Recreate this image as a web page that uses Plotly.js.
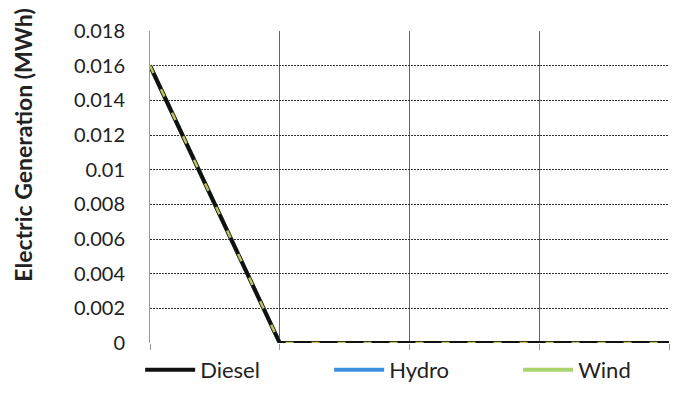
<!DOCTYPE html>
<html><head><meta charset="utf-8">
<script src="https://cdn.plot.ly/plotly-3.0.1.min.js"></script>
<style>html,body{margin:0;padding:0;background:#fff}#chart{width:677px;height:396px}</style>
</head><body><div id="chart"></div>
<script>
var xPoints = [0, 1, 2, 3, 4];
var diesel = [0.016, 0, 0, 0, 0];
var hydro = [0.016, 0, 0, 0, 0];
var wind = [0.016, 0, 0, 0, 0];
var yTickVals = [0, 0.002, 0.004, 0.006, 0.008, 0.01, 0.012, 0.014, 0.016, 0.018];
var yTickText = ['0', '0.002', '0.004', '0.006', '0.008', '0.01', '0.012', '0.014', '0.016', '0.018'];
var yTitle = 'Electric Generation (MWh)';

var traces = [
  {x: xPoints, y: hydro, name: 'Hydro', mode: 'lines', line: {color: '#3a8fe0', width: 4}, legendrank: 2},
  {x: xPoints, y: wind, name: 'Wind', mode: 'lines', line: {color: '#a9d46c', width: 4}, legendrank: 3},
  {x: xPoints, y: diesel, name: 'Diesel', mode: 'lines', line: {color: '#111111', width: 4}, legendrank: 1},
  {x: xPoints, y: wind, name: 'Wind', mode: 'lines', showlegend: false, hoverinfo: 'skip',
   line: {color: '#c2c064', width: 2.5, dash: '8px,18px'}}
];

var layout = {
  width: 677, height: 396,
  margin: {l: 150, r: 8, t: 31, b: 53, autoexpand: false},
  paper_bgcolor: '#ffffff', plot_bgcolor: '#ffffff',
  font: {family: 'Lato, "Open Sans", sans-serif', size: 16, color: '#222'},
  showlegend: true,
  legend: {orientation: 'h', xref: 'paper', yref: 'paper', x: -0.019, xanchor: 'left',
    y: -0.0865, yanchor: 'middle', bgcolor: 'rgba(0,0,0,0)',
    entrywidth: 124, entrywidthmode: 'pixels', traceorder: 'normal',
    font: {size: 22, color: '#222'}, itemwidth: 50},
  xaxis: {range: [0, 4], tickvals: xPoints, ticktext: ['', '', '', '', ''], showgrid: true,
    gridcolor: '#666', gridwidth: 1, ticks: 'outside', ticklen: 6, tickcolor: '#999',
    showline: false, zeroline: false, fixedrange: true},
  yaxis: {range: [0, 0.018], tickvals: yTickVals, ticktext: yTickText, showgrid: true,
    gridcolor: '#333', griddash: '2px,1px', gridwidth: 1, showline: true, linecolor: '#999',
    zeroline: false, ticks: '', ticklabelstandoff: 20,
    tickfont: {size: 20, color: '#222'}},
  annotations: [{text: '<b>' + yTitle + '</b>', textangle: -90, xref: 'paper', yref: 'paper',
    x: -0.245, y: 0.635, xanchor: 'center', yanchor: 'middle', showarrow: false,
    font: {size: 23, color: '#222'}}]
};
Plotly.newPlot('chart', traces, layout, {displayModeBar: false, staticPlot: true});
</script></body></html>
